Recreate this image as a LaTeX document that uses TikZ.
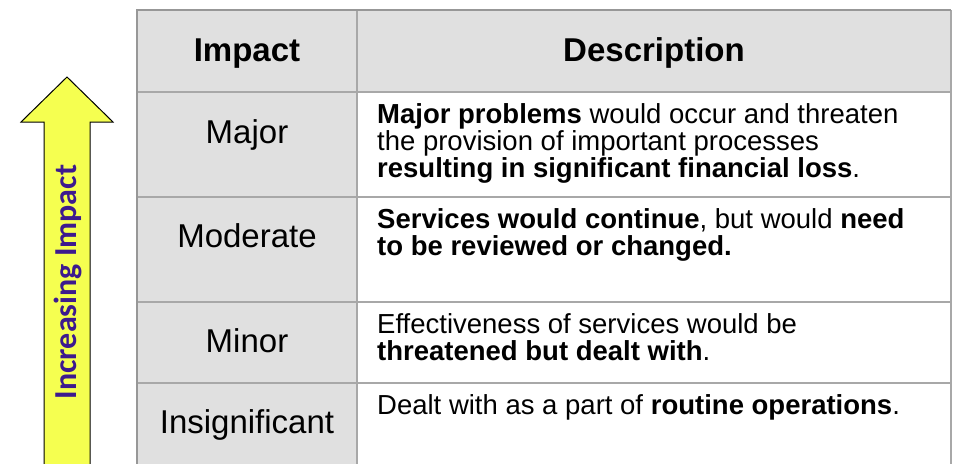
\documentclass[tikz,border=0pt]{standalone}
\usepackage{fontspec}
\setmainfont{Liberation Sans}
\newfontfamily\arrowfont{Carlito}
\definecolor{cellgray}{HTML}{E0E0E0}
\definecolor{gridgray}{HTML}{A8A8A8}
\definecolor{arrowyellow}{HTML}{F5FF50}
\definecolor{labelindigo}{HTML}{3D1A8E}
\tikzset{
  gridline/.style={draw=gridgray, line width=1.5pt},
  outerline/.style={draw=gridgray!90!black, line width=2.5pt},
  arrowshape/.style={fill=arrowyellow, draw=black, line width=1pt, line join=miter},
  headtext/.style={anchor=base, inner sep=0pt, font=\fontsize{33}{36}\selectfont\bfseries},
  leveltext/.style={anchor=base, inner sep=0pt, font=\fontsize{33}{36}\selectfont},
  desctext/.style={anchor=base west, inner sep=0pt, font=\fontsize{27.5}{28}\selectfont},
  arrowlabel/.style={rotate=90, anchor=base, inner sep=0pt, text=labelindigo, font=\arrowfont\bfseries\fontsize{32}{34}\selectfont}
}
\begin{document}
\begin{tikzpicture}[x=1pt,y=-1pt]
\useasboundingbox (0,0) rectangle (957,463);
\clip (0,0) rectangle (957,463);
% cell fills
\fill[cellgray] (137,10) rectangle (357,475);
\fill[cellgray] (357,10) rectangle (951,92);
\fill[white] (357,92) rectangle (951,475);
% grid
\coordinate (tl) at (137,10);
\coordinate (tr) at (951,10);
\coordinate (bl) at (137,475);
\coordinate (br) at (951,475);
\coordinate (ct) at (357,10);
\coordinate (cb) at (357,475);
\coordinate (r1l) at (137,92);  \coordinate (r1r) at (951,92);
\coordinate (r2l) at (137,197); \coordinate (r2r) at (951,197);
\coordinate (r3l) at (137,302); \coordinate (r3r) at (951,302);
\coordinate (r4l) at (137,383); \coordinate (r4r) at (951,383);
\draw[gridline] (r1l) -- (r1r);
\draw[gridline] (r2l) -- (r2r);
\draw[gridline] (r3l) -- (r3r);
\draw[gridline] (r4l) -- (r4r);
\draw[gridline] (ct) -- (cb);
\draw[gridline] (tr) -- (br);
\draw[outerline] (bl) -- (tl) -- (tr);
% arrow
\filldraw[arrowshape] (44,475) -- (44,122) -- (21,122) -- (67,77) -- (113,122) -- (90,122) -- (90,475) -- cycle;
\node[arrowlabel] (lbl) at (76,282) {Increasing Impact};
% header
\node[headtext] (hImpact) at (247,61) {Impact};
\node[headtext] (hDesc) at (654,61) {Description};
% levels
\node[leveltext] (lMajor) at (247,143) {Major};
\node[leveltext] (lModerate) at (247,247) {Moderate};
\node[leveltext] (lMinor) at (247,352) {Minor};
\node[leveltext] (lInsig) at (247,433) {Insignificant};
% descriptions
\node[desctext] (dMa1) at (377,123) {\textbf{Major problems} would occur and threaten};
\node[desctext] (dMa2) at (377,150) {the provision of important processes};
\node[desctext] (dMa3) at (377,177) {\textbf{resulting in significant financial loss}.};
\node[desctext] (dMo1) at (377,228) {\textbf{Services would continue}, but would \textbf{need}};
\node[desctext] (dMo2) at (377,255) {\textbf{to be reviewed or changed.}};
\node[desctext] (dMi1) at (377,333) {Effectiveness of services would be};
\node[desctext] (dMi2) at (377,360) {\textbf{threatened but dealt with}.};
\node[desctext] (dIn1) at (377,414) {Dealt with as a part of \textbf{routine operations}.};
\end{tikzpicture}
\end{document}
